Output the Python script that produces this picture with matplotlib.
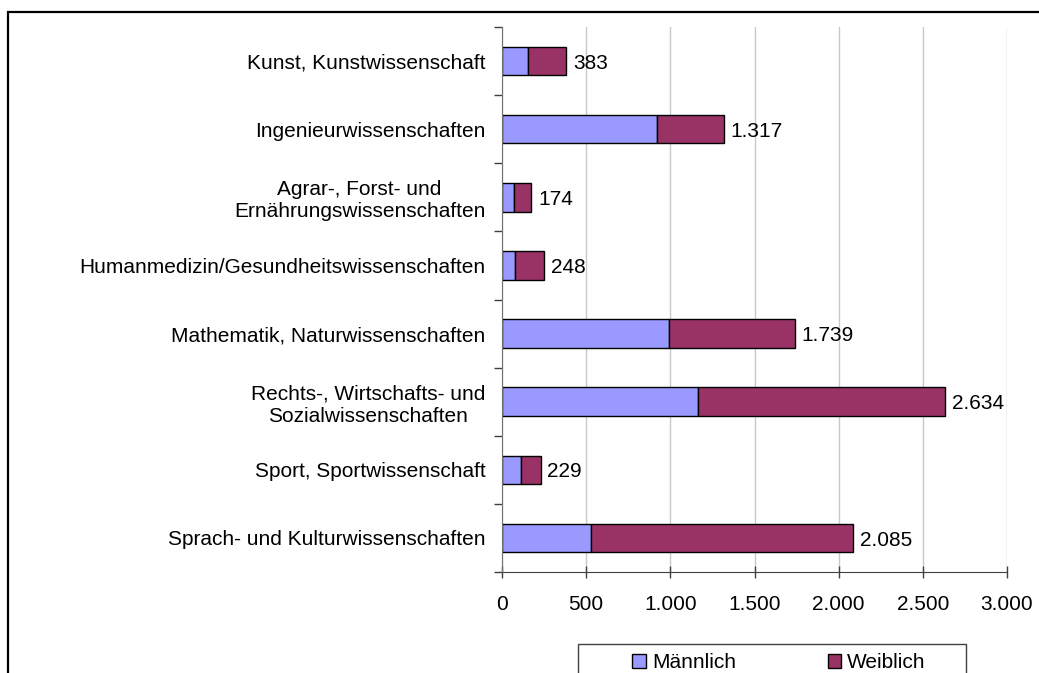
import matplotlib
matplotlib.use("Agg")
import matplotlib.pyplot as plt
from matplotlib.patches import Rectangle, Patch
import numpy as np

plt.rcParams['font.family'] = ['Liberation Sans', 'DejaVu Sans']

categories = [
    "Kunst, Kunstwissenschaft",
    "Ingenieurwissenschaften",
    "Agrar-, Forst- und\nErnährungswissenschaften",
    "Humanmedizin/Gesundheitswissenschaften",
    "Mathematik, Naturwissenschaften",
    "Rechts-, Wirtschafts- und\nSozialwissenschaften",
    "Sport, Sportwissenschaft",
    "Sprach- und Kulturwissenschaften",
]
totals = [383, 1317, 174, 248, 1739, 2634, 229, 2085]
maennlich = [156, 918, 69, 79, 992, 1166, 113, 528]
weiblich = [t - m for t, m in zip(totals, maennlich)]
xticks = [0, 500, 1000, 1500, 2000, 2500, 3000]
series_names = ["Männlich", "Weiblich"]
colors = ["#9999FF", "#993366"]

def de(n):
    return f"{n:,}".replace(",", ".")

W, H = 1039, 673
fig = plt.figure(figsize=(W / 100, H / 100), dpi=100)
ax = fig.add_axes([502 / W, 1 - 572 / H, (1007 - 502) / W, (572 - 27) / H])

y = np.arange(len(categories))
ax.barh(y, maennlich, height=0.42, color=colors[0], edgecolor="black", linewidth=1.0, zorder=3)
ax.barh(y, weiblich, left=maennlich, height=0.42, color=colors[1], edgecolor="black", linewidth=1.0, zorder=3)

for yi, t in zip(y, totals):
    ax.annotate(de(t), xy=(t, yi), xytext=(5, -1.5), textcoords="offset points",
                va="center", ha="left", fontsize=15, color="black")

ax.set_xlim(0, 3000)
ax.set_ylim(len(categories) - 0.5, -0.5)

ax.set_xticks(xticks)
ax.set_xticklabels([de(v) for v in xticks], fontsize=15)
ax.tick_params(axis="x", direction="inout", length=9, width=1, color="#404040", pad=12)

ax.set_yticks(y)
ax.set_yticklabels(categories, fontsize=15, multialignment="center")
ax.tick_params(axis="y", which="major", length=0, pad=12)
ax.set_yticks(np.arange(-0.5, len(categories), 1.0), minor=True)
ax.tick_params(axis="y", which="minor", length=6, width=1, color="#404040", direction="out")

ax.grid(axis="x", color="#C8C8C8", linewidth=1.0, zorder=0)
ax.set_axisbelow(True)
for s in ["top", "right"]:
    ax.spines[s].set_visible(False)
ax.spines["left"].set_color("#707070")
ax.spines["bottom"].set_color("#404040")
ax.spines["left"].set_zorder(4)

# outer border (chart area), cut off at right and bottom
fig.patches.append(Rectangle((8 / W, -0.2), 1.5, 1.2 - 12 / H, transform=fig.transFigure,
                             fill=False, edgecolor="black", linewidth=1.6, zorder=0))

# legend box, cut off at bottom
fig.patches.append(Rectangle((578 / W, -0.05), (966 - 578) / W, 0.05 + 1 - 644 / H,
                             transform=fig.transFigure, fill=True, facecolor="white",
                             edgecolor="#404040", linewidth=1.0, zorder=1))

handles = [Patch(facecolor=colors[0], edgecolor="black", linewidth=1.0),
           Patch(facecolor=colors[1], edgecolor="black", linewidth=1.0)]
leg = fig.legend(handles, series_names, loc="center", bbox_to_anchor=(779 / W, 1 - 663 / H),
                 ncol=2, fontsize=15, frameon=False,
                 handlelength=0.65, handleheight=0.65, handletextpad=0.3,
                 columnspacing=4.4, borderpad=0.0, borderaxespad=0)

fig.savefig("out.png", dpi=100)
